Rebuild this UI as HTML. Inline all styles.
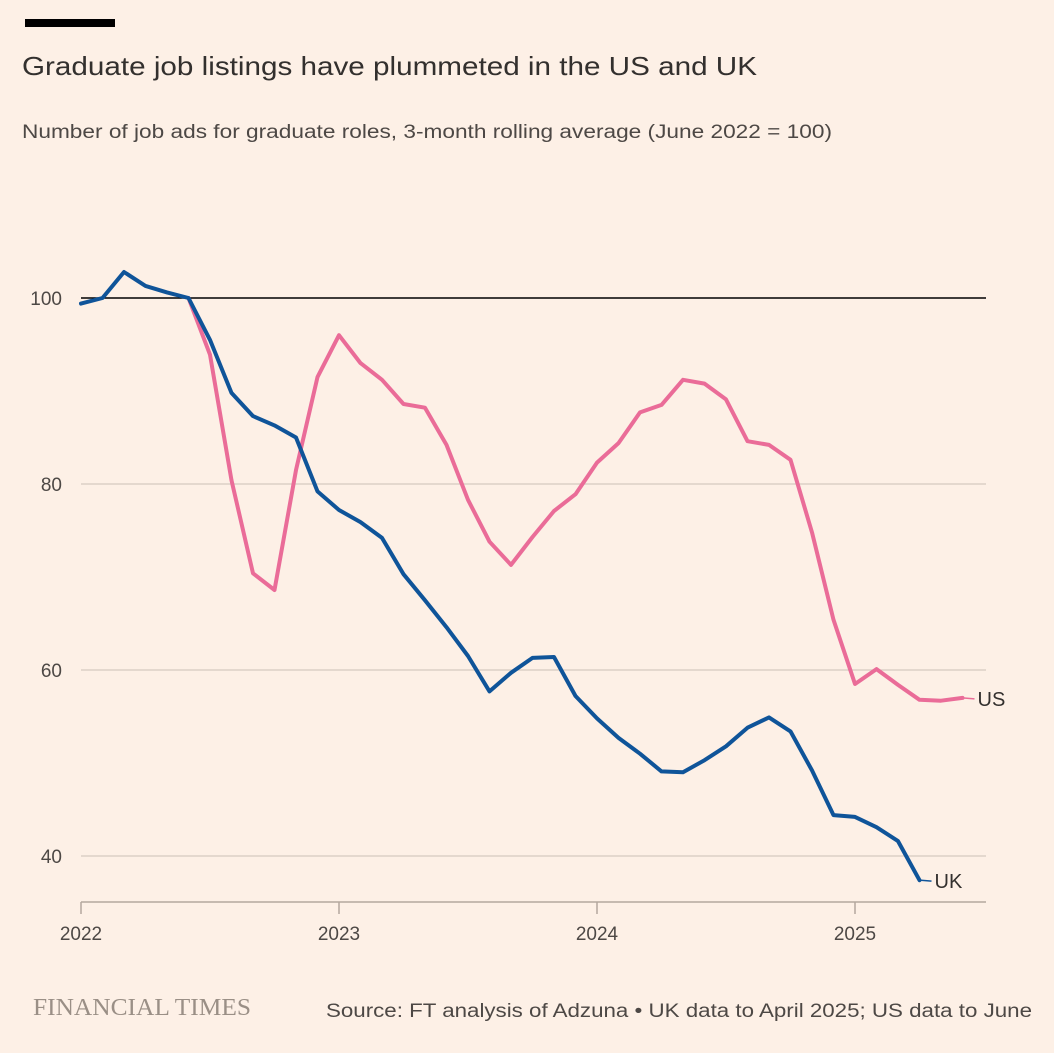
<!DOCTYPE html>
<html><head><meta charset="utf-8">
<style>
html,body{margin:0;padding:0;background:#fdf0e6;}
body{width:1054px;height:1048px;overflow:hidden;font-family:"Liberation Sans",sans-serif;}
svg text{font-family:"Liberation Sans",sans-serif;}
</style></head>
<body>
<svg width="1054" height="1048">
<rect x="0" y="0" width="1054" height="1048" fill="#fdf0e6"/>
<rect x="25" y="19" width="90" height="8" fill="#000"/>
<text x="22" y="75" font-size="26" fill="#33302e" textLength="735" lengthAdjust="spacingAndGlyphs">Graduate job listings have plummeted in the US and UK</text>
<text x="22" y="138" font-size="19" fill="#4d4845" textLength="810" lengthAdjust="spacingAndGlyphs">Number of job ads for graduate roles, 3-month rolling average (June 2022 = 100)</text>
<g id="grid"></g>
<g id="xaxis"></g>
<g id="lines"></g>
<text x="33" y="1015" font-size="24" fill="#9a8f86" font-family="Liberation Serif" style="font-family:'Liberation Serif',serif" textLength="218" lengthAdjust="spacingAndGlyphs">FINANCIAL TIMES</text>
<text x="1032" y="1017" font-size="19" fill="#4d4845" text-anchor="end" textLength="706" lengthAdjust="spacingAndGlyphs">Source: FT analysis of Adzuna • UK data to April 2025; US data to June</text>
</svg>
<script>
const yTicks=[40,60,80,100];
const xYears=[2022,2023,2024,2025];
const ukValues=[99.4,100,102.8,101.3,100.6,100,95.5,89.8,87.3,86.3,85,79.2,77.2,75.9,74.2,70.3,67.5,64.6,61.5,57.7,59.7,61.3,61.4,57.2,54.8,52.7,51,49.1,49,50.3,51.8,53.8,54.9,53.4,49.2,44.4,44.2,43.1,41.6,37.4];
const usValues=[100,93.9,80.4,70.4,68.6,81.5,91.5,96,93,91.2,88.6,88.2,84.2,78.3,73.8,71.3,74.3,77.1,78.9,82.3,84.4,87.7,88.5,91.2,90.8,89.1,84.6,84.2,82.6,74.8,65.4,58.5,60.1,58.4,56.8,56.7,57];
const ukStart=0; // month index from Jan 2022
const usStart=5; // Jun 2022
const NS='http://www.w3.org/2000/svg';
function xs(m){return 81+m*258/12;}
function ys(v){return 298+(100-v)*9.3;}
function mk(tag,attrs,parent){const e=document.createElementNS(NS,tag);for(const k in attrs)e.setAttribute(k,attrs[k]);parent.appendChild(e);return e;}
const grid=document.getElementById('grid');
yTicks.forEach(v=>{
  const l=mk('line',{x1:81,x2:986,y1:ys(v),y2:ys(v),stroke:v===100?'#000':'#d6c9bf','stroke-width':v===100?1.5:1.2},grid);
  
  
  const t=mk('text',{x:62,y:ys(v)+7,'font-size':19,fill:'#4d4845','text-anchor':'end'},grid);
  t.textContent=v;
  
  
});
const xa=document.getElementById('xaxis');
const base=mk('line',{x1:81,x2:986,y1:902,y2:902,stroke:'#b3a79e','stroke-width':1.5},xa);


xYears.forEach((yr,i)=>{
  const x=xs(i*12);
  const tk=mk('line',{x1:x,x2:x,y1:902,y2:914,stroke:'#b3a79e','stroke-width':1.5},xa);
  
  
  const t=mk('text',{x:x,y:940,'font-size':19,fill:'#4d4845','text-anchor':'middle'},xa);
  t.textContent=yr;
  
  
});
const lg=document.getElementById('lines');
function series(vals,start,color,name,label,dy){
  const d=vals.map((v,i)=>(i?'L':'M')+xs(start+i).toFixed(1)+','+ys(v).toFixed(1)).join('');
  const p=mk('path',{d:d,fill:'none',stroke:color,'stroke-width':4,'stroke-linejoin':'round','stroke-linecap':'round'},lg);
  
  
  const lx=xs(start+vals.length-1), ly=ys(vals[vals.length-1]);
  const c=mk('line',{x1:lx,y1:ly,x2:lx+12,y2:ly+dy,stroke:color,'stroke-width':1.5},lg);
  
  
  const t=mk('text',{x:lx+15,y:ly+dy+7,'font-size':20,fill:'#33302e'},lg);
  t.textContent=label;
  
  
}
series(usValues,usStart,'#ea6c98','us','US',1);
series(ukValues,ukStart,'#0f5499','uk','UK',1);
</script>
</body></html>
